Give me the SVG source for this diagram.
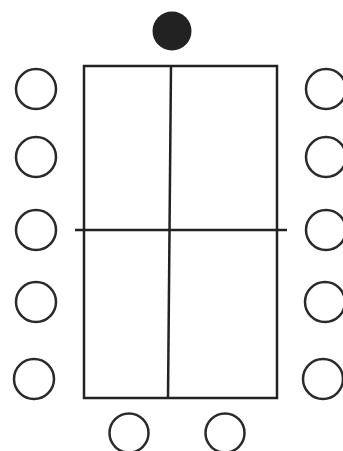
<svg xmlns="http://www.w3.org/2000/svg" width="343" height="451" viewBox="0 0 343 451">
<style>
.seat{fill:none;stroke:#2a2a2a;stroke-width:2.5}
.ln{stroke:#222;stroke-width:2.5;fill:none}
</style>
<rect width="343" height="451" fill="#fff"/>
<g id="table">
<rect x="84" y="66" width="193" height="332" class="ln"/>
</g>
<g id="connectors">
<line x1="171" y1="66" x2="168" y2="398" class="ln"/>
<line x1="75" y1="230" x2="287" y2="230" class="ln"/>
</g>
<g id="head"><circle cx="172" cy="31" r="19.5" fill="#222"/></g>
<g id="l1"><circle cx="36" cy="89" r="20" class="seat"/></g>
<g id="l2"><circle cx="36" cy="157" r="20" class="seat"/></g>
<g id="l3"><circle cx="36" cy="230" r="20" class="seat"/></g>
<g id="l4"><circle cx="36" cy="302" r="20" class="seat"/></g>
<g id="l5"><circle cx="34" cy="379" r="20" class="seat"/></g>
<g id="r1"><circle cx="326" cy="89" r="20" class="seat"/></g>
<g id="r2"><circle cx="326" cy="157" r="20" class="seat"/></g>
<g id="r3"><circle cx="326" cy="230" r="20" class="seat"/></g>
<g id="r4"><circle cx="325" cy="302" r="20" class="seat"/></g>
<g id="r5"><circle cx="323" cy="379" r="20" class="seat"/></g>
<g id="b1"><circle cx="129" cy="433" r="19.5" class="seat"/></g>
<g id="b2"><circle cx="225" cy="433" r="19.5" class="seat"/></g>
</svg>
